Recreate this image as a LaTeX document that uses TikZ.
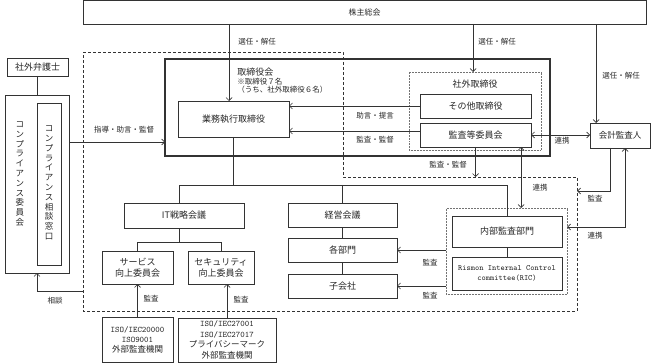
\documentclass[tikz,border=0pt]{standalone}
\usepackage{fontspec}
\setmainfont{Noto Sans CJK JP}
\usepackage{tikz}
\usetikzlibrary{arrows.meta}

\begin{document}
\begin{tikzpicture}[x=1pt,y=-1pt,color=black!80,line width=0.7pt,
    >={Straight Barb[length=3pt,width=6pt]},
    box/.style={draw, line width=0.8pt, inner sep=0pt, outer sep=0pt, align=center, text=black!85, font=\fontsize{9}{11}\selectfont},
    dotbox/.style={draw=black!55, line width=0.5pt, densely dotted, inner sep=0pt, outer sep=0pt},
    lab/.style={inner sep=0pt, text=black!85, font=\fontsize{7.5}{9}\selectfont},
    tate/.style={inner sep=0pt, align=center, text=black!85, font=\fontsize{8.5}{9.8}\selectfont},
    dashline/.style={line width=0.8pt, dash pattern=on 3pt off 2pt}]
    \useasboundingbox (0,0) rectangle (660,363);

    \coordinate (dTL) at (83,52);
    \coordinate (dTR) at (343,52);
    \coordinate (dMR) at (577,177);
    \coordinate (dBL) at (83,311);
    \draw[dashline] (dTL) -- (dTR) -- (343,177) -- (dMR) -- (577,311) -- (dBL) -- cycle;

    \node[box, font=\fontsize{8}{10}\selectfont, minimum width=563pt, minimum height=24pt] (kabu) at (364.5,12) {株主総会};
    \node[box, line width=1.6pt, minimum width=385pt, minimum height=97pt] (tori) at (357.5,107.5) {};
    \node[lab, anchor=west, font=\fontsize{9}{11}\selectfont] (torilab) at (237,72) {取締役会};
    \node[lab, anchor=west, font=\fontsize{7.5}{9}\selectfont] (torinote) at (237,82) {※取締役７名};
    \node[lab, anchor=west, font=\fontsize{7.5}{9}\selectfont] (torinote2) at (237,90) {（うち、社外取締役６名）};
    \node[box, minimum width=111pt, minimum height=36pt] (gyomu) at (233.5,119) {業務執行取締役};
    \node[dotbox, minimum width=132pt, minimum height=78pt] (shagai) at (475,111) {};
    \node[lab, font=\fontsize{9}{11}\selectfont] (shagailab) at (475,84) {社外取締役};
    \node[box, minimum width=111pt, minimum height=24pt] (sonota) at (475.5,106) {その他取締役};
    \node[box, minimum width=111pt, minimum height=24pt] (kansa) at (475.5,135) {監査等委員会};
    \node[box, font=\fontsize{8.5}{10}\selectfont, minimum width=60pt, minimum height=25pt] (kaikei) at (620,135.5) {会計監査人};

    \node[dotbox, minimum width=121pt, minimum height=86pt] (naibu) at (506.5,251) {};
    \node[box, minimum width=110pt, minimum height=31pt] (naibukansa) at (507,231.5) {内部監査部門};
    \node[box, font=\ttfamily\fontsize{8}{10}\selectfont, minimum width=110pt, minimum height=33pt] (ric) at (507,273.5) {Rismon Internal Control\\committee(RIC)};
    \node[box, minimum width=109pt, minimum height=24pt] (keiei) at (342.5,215) {経営会議};
    \node[box, minimum width=109pt, minimum height=24pt] (kakubu) at (342.5,250) {各部門};
    \node[box, minimum width=109pt, minimum height=24pt] (kogaisha) at (342.5,286) {子会社};
    \node[box, minimum width=120pt, minimum height=25pt] (it) at (184,215.5) {IT戦略会議};
    \node[box, minimum width=71pt, minimum height=33pt] (service) at (137.5,267.5) {サービス\\向上委員会};
    \node[box, minimum width=66pt, minimum height=33pt] (security) at (221,267.5) {セキュリティ\\向上委員会};
    \node[box, font=\fontsize{8.5}{10}\selectfont, minimum width=71pt, minimum height=45pt] (iso1) at (137.5,339.5) {{\ttfamily ISO/IEC20000}\\{\ttfamily ISO9001}\\外部監査機関};
    \node[box, font=\fontsize{8.5}{10.5}\selectfont, minimum width=98pt, minimum height=44pt] (iso2) at (227,340) {{\ttfamily ISO/IEC27001}\\{\ttfamily ISO/IEC27017}\\プライバシーマーク\\外部監査機関};

    \node[box, minimum width=61pt, minimum height=18pt] (bengoshi) at (37.5,67) {社外弁護士};
    \node[box, minimum width=64pt, minimum height=178pt] (compliance) at (37,184) {};
    \node[box, minimum width=24pt, minimum height=162pt] (soudan) at (49,184) {};
    \node[tate] (compliancelab) at (20,174) {コ\\ン\\プ\\ラ\\イ\\ア\\ン\\ス\\委\\員\\会};
    \node[tate] (soudanlab) at (49,183) {コ\\ン\\プ\\ラ\\イ\\ア\\ン\\ス\\相\\談\\窓\\口};

    \draw[->] (229,0 |- kabu.south) -- (229,0 |- gyomu.north);
    \draw[->] (473,0 |- kabu.south) -- (473,0 |- shagai.north);
    \draw[->] (596,0 |- kabu.south) -- (596,0 |- kaikei.north);
    \draw[->] (sonota.west) -- (sonota.west -| gyomu.east);
    \draw[->] (kansa.west |- 0,131) -- (gyomu.east |- 0,131);
    \draw[->] (compliance.east |- 0,142) -- (tori.west |- 0,142);
    \draw[<->] (kansa.east) -- (kansa.east -| kaikei.west);
    \draw[->] (kansa.south) -- (kansa.south |- dMR);
    \draw[<->] (521,0 |- kansa.south) -- (521,0 |- naibu.north);
    \draw[->] (610,0 |- kaikei.south) |- (dMR |- 0,191);
    \draw[<->] (625,0 |- kaikei.south) |- (naibu.east |- 0,227);

    \draw (gyomu.south) -- (gyomu.south |- 0,185);
    \draw (179,0 |- it.north) |- (naibukansa.north |- 0,185) -- (naibukansa.north);
    \draw (keiei.north |- 0,185) -- (keiei.north);
    \draw (keiei.south) -- (kakubu.north);
    \draw (kakubu.south) -- (kogaisha.north);
    \draw (naibukansa.south) -- (ric.north);
    \draw[->] (naibu.west |- kakubu.east) -- (kakubu.east);
    \draw[->] (naibu.west |- kogaisha.east) -- (kogaisha.east);
    \draw (179,0 |- it.south) -- (179,242);
    \draw (service.north) |- (security.north |- 0,242) -- (security.north);
    \draw[->] (iso1.north) -- (service.south);
    \draw[->] (iso2.north) -- (iso2.north |- security.south);
    \draw (bengoshi.south) -- (bengoshi.south |- compliance.north);
    \draw[->] (dBL |- 0,291) -| (compliance.south);

    \node[lab] (sennin1) at (257,42) {選任・解任};
    \node[lab] (sennin2) at (497,42) {選任・解任};
    \node[lab] (sennin3) at (621,76) {選任・解任};
    \node[lab] (jogen) at (375,116) {助言・提言};
    \node[lab] (kantoku1) at (375,140) {監査・監督};
    \node[lab] (shido) at (124,130) {指導・助言・監督};
    \node[lab] (renkei1) at (562,141) {連携};
    \node[lab] (kantoku2) at (448,165) {監査・監督};
    \node[lab] (renkei2) at (540,188) {連携};
    \node[lab] (kansa1) at (595,199) {監査};
    \node[lab] (renkei3) at (595,236) {連携};
    \node[lab] (kansa2) at (430,263) {監査};
    \node[lab] (kansa3) at (430,296) {監査};
    \node[lab] (kansa4) at (151,299) {監査};
    \node[lab] (kansa5) at (241,300) {監査};
    \node[lab] (sodanlab) at (55,301) {相談};
\end{tikzpicture}
\end{document}
